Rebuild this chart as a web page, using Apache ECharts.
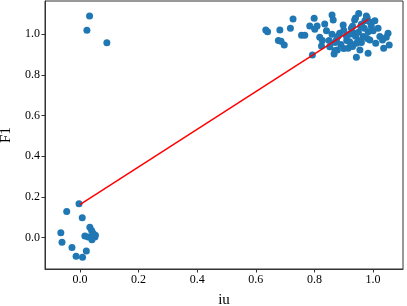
<!DOCTYPE html>
<html><head><meta charset="utf-8">
<script src="https://cdn.jsdelivr.net/npm/echarts@6/dist/echarts.min.js"></script>
<style>html,body{margin:0;padding:0;background:#fff}#c{width:407px;height:306px}</style>
</head><body><div id="c"></div>
<script>
const xTicks = [0.0, 0.2, 0.4, 0.6, 0.8, 1.0];
const yTicks = [0.0, 0.2, 0.4, 0.6, 0.8, 1.0];
const iu = [
 -0.003,-0.045,0.008,-0.065,-0.061,-0.027,-0.013,0.009,0.022,0.017,0.034,0.040,0.045,0.028,0.051,0.041,0.053,
 0.033,0.024,0.092,
 0.634,0.640,0.682,0.677,0.686,0.697,0.718,0.727,0.756,0.767,0.784,0.799,0.793,0.801,0.809,0.818,0.827,0.835,0.841,0.824,
 0.852,0.860,0.864,0.867,0.875,0.878,0.886,0.898,0.909,0.915,0.920,0.926,0.934,0.937,0.943,0.943,0.951,0.955,0.958,0.966,
 0.972,0.977,0.983,0.983,0.989,0.994,1.000,1.006,1.009,1.017,1.023,1.032,1.036,1.051,1.055,1.045,
 0.87,0.88,0.89,0.90,0.91,0.92,0.93,0.94,0.95,0.96,0.97,0.98,0.99,0.96,0.93,0.85,0.86,0.95,0.90,0.87,0.94,0.98
];
const f1 = [
 0.166,0.128,0.097,0.023,-0.023,-0.049,-0.092,-0.097,-0.066,0.008,0.051,0.034,0.021,0.002,0.002,-0.011,0.011,
 1.090,1.020,0.959,
 1.021,1.013,1.021,0.969,0.966,0.948,1.030,1.075,0.995,0.995,1.041,1.079,0.898,1.025,1.041,0.985,0.969,1.051,1.018,0.943,
 0.939,1.095,1.070,0.903,0.972,0.923,1.005,1.046,0.992,0.931,0.964,1.030,1.005,1.070,0.956,0.887,1.103,0.923,1.038,0.989,
 1.067,1.090,1.013,0.907,0.972,1.041,1.018,1.067,0.956,1.030,0.989,0.972,0.931,1.005,0.948,0.985,
 0.96,0.99,0.95,1.02,0.97,1.00,0.94,0.99,1.01,0.96,1.03,0.98,1.06,1.05,1.04,0.97,1.00,0.97,0.93,0.92,1.08,1.08
];
const fitX = [0.0, 0.985];
const fitY = [0.162, 1.075];

const pts = iu.map((v,i)=>[v,f1[i]]);
const fit = fitX.map((v,i)=>[v,fitY[i]]);
const font = 'Liberation Serif';
const chart = echarts.init(document.getElementById('c'), null, {renderer:'canvas'});
chart.setOption({
  animation:false,
  grid:{left:45,right:4,top:1,bottom:37,show:true,borderColor:'#333',borderWidth:1,containLabel:false,outerBoundsMode:'none'},
  xAxis:{type:'value',min:-0.119,max:1.102,interval:0.2,
    name:'iu',nameLocation:'middle',nameGap:24,nameTextStyle:{fontFamily:font,fontSize:15,color:'#000'},
    axisLine:{show:true,onZero:false,lineStyle:{color:'#333'}},
    axisTick:{show:true,inside:false,length:3.5,lineStyle:{color:'#333'},customValues:xTicks},
    axisLabel:{fontFamily:font,fontSize:12,color:'#000',margin:5,customValues:xTicks,formatter:v=>v.toFixed(1)},
    splitLine:{show:false}},
  yAxis:{type:'value',min:-0.155,max:1.164,interval:0.2,
    name:'F1',nameLocation:'middle',nameGap:31,nameTextStyle:{fontFamily:font,fontSize:15,color:'#000'},
    axisLine:{show:true,onZero:false,lineStyle:{color:'#333'}},
    axisTick:{show:true,inside:false,length:3.5,lineStyle:{color:'#333'},customValues:yTicks},
    axisLabel:{fontFamily:font,fontSize:12,color:'#000',margin:5,customValues:yTicks,formatter:v=>v.toFixed(1)},
    splitLine:{show:false}},
  series:[
    {type:'scatter',data:pts,symbolSize:7,itemStyle:{color:'#1f77b4',opacity:1}},
    {type:'line',data:fit,symbol:'none',lineStyle:{color:'#ff0000',width:1.5},z:3}
  ]
});
</script></body></html>
